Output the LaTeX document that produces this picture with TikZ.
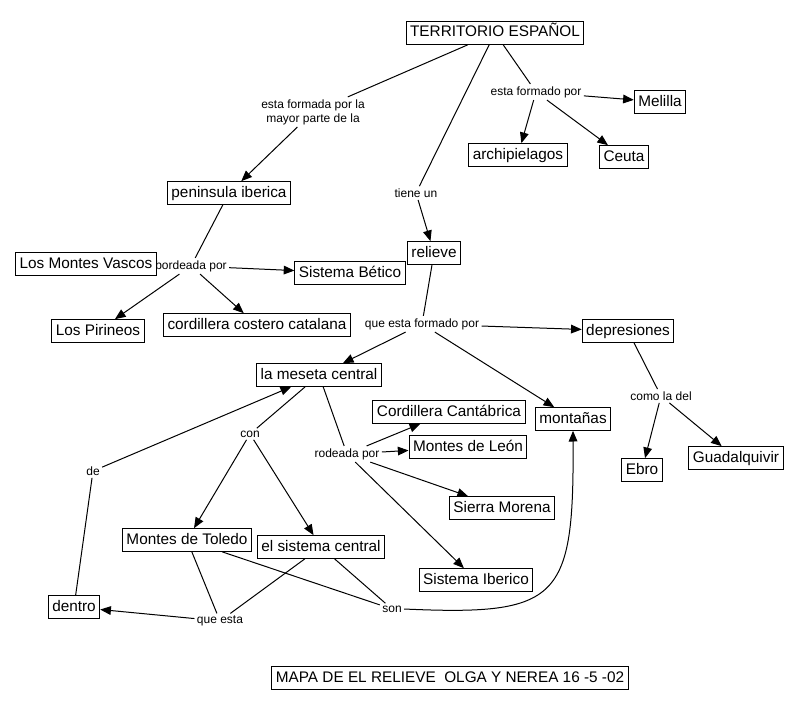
\documentclass[tikz,border=0pt]{standalone}
\usepackage{fontspec}
\setmainfont{Liberation Sans}
\usetikzlibrary{arrows.meta}

\begin{document}
\begin{tikzpicture}[x=0.75pt,y=-0.75pt,line width=0.75pt]

\tikzset{concept/.style={
  rectangle,
  inner xsep=3pt, inner ysep=3pt,
  text height=8.5pt, text depth=2.5pt,
  draw=black, fill=white,
  font=\fontsize{11.5}{13}\selectfont
  },
  linkword/.style={inner sep=1.5pt, align=center,
  font=\fontsize{9}{10.5}\selectfont},
  >={Triangle[length=8pt,width=6.5pt]}
  }

\useasboundingbox (0,0) rectangle (798,710);

\node[concept] (territorio) at (495,33) {TERRITORIO ESPAÑOL};
\node[linkword] (formada) at (313,112) {esta formada por la\\mayor parte de la};
\node[linkword] (formado) at (536,92) {esta formado por};
\node[linkword] (tiene) at (416,193) {tiene un};
\node[concept] (melilla) at (660,102) {Melilla};
\node[concept] (archi) at (518,155) {archipielagos};
\node[concept] (ceuta) at (624,157) {Ceuta};
\node[concept] (peninsula) at (229,193) {peninsula iberica};
\node[concept] (relieve) at (434,253) {relieve};

\node[linkword] (bordeada) at (191,266) {bordeada por};
\node[concept] (vascos) at (86,264) {Los Montes Vascos};
\node[concept] (betico) at (350,273) {Sistema Bético};
\node[concept] (pirineos) at (98,331) {Los Pirineos};
\node[concept] (catalana) at (257,325) {cordillera costero catalana};

\node[linkword] (compuesto) at (422,324) {que esta formado por};
\node[concept] (depresiones) at (628,331) {depresiones};
\node[concept] (meseta) at (319,375) {la meseta central};
\node[concept] (montanas) at (573,419) {montañas};
\node[linkword] (comola) at (661,396) {como la del};
\node[concept] (ebro) at (642,470) {Ebro};
\node[concept] (guadalquivir) at (736,458) {Guadalquivir};

%% alrededor de la meseta
\node[linkword] (con) at (250,434) {con};
\node[linkword] (rodeada) at (347,454) {rodeada por};
\node[linkword] (de) at (93,471) {de};
\node[concept] (cantabrica) at (449,412) {Cordillera Cantábrica};
\node[concept] (leon) at (468,447) {Montes de León};
\node[concept] (morena) at (502,508) {Sierra Morena};
\node[concept] (iberico) at (476,580) {Sistema Iberico};
\node[concept] (toledo) at (187,540) {Montes de Toledo};
\node[concept] (central) at (321,547) {el sistema central};
\node[concept] (dentro) at (74,607) {dentro};
\node[linkword] (queesta) at (220,621) {que esta};
\node[linkword] (son) at (392,609) {son};

\node[concept] (titulo) at (450,678) {MAPA DE EL RELIEVE\ \ OLGA Y NEREA 16 -5 -02};

\path[draw] (territorio) -- (formada);
\path[draw,->] (formada) -- (peninsula);
\path[draw] (territorio) -- (tiene);
\path[draw,->] (tiene) -- (relieve);
\path[draw] (territorio) -- (formado);
\path[draw,->] (formado) -- (melilla);
\path[draw,->] (formado) -- (archi);
\path[draw,->] (formado) -- (ceuta);

\path[draw] (peninsula) -- (bordeada);
\path[draw,->] (bordeada) -- (betico);
\path[draw,->] (bordeada) -- (pirineos);
\path[draw,->] (bordeada) -- (catalana);

\path[draw] (relieve) -- (compuesto);
\path[draw,->] (compuesto) -- (depresiones);
\path[draw,->] (compuesto) -- (meseta);
\path[draw,->] (compuesto) -- (montanas);
\path[draw] (depresiones) -- (comola);
\path[draw,->] (comola) -- (ebro);
\path[draw,->] (comola) -- (guadalquivir);

\path[draw] (meseta) -- (con);
\path[draw,->] (con) -- (toledo);
\path[draw,->] (con) -- (central);
\path[draw] (meseta) -- (rodeada);
\path[draw,->] (rodeada) -- (cantabrica);
\path[draw,->] (rodeada) -- (leon);
\path[draw,->] (rodeada) -- (morena);
\path[draw,->] (rodeada) -- (iberico);

\path[draw] (toledo) -- (queesta);
\path[draw] (central) -- (queesta);
\path[draw,->] (queesta) -- (dentro);
\path[draw] (dentro) -- (de);
\path[draw,->] (de) -- (meseta);
\path[draw] (toledo) -- (son);
\path[draw] (central) -- (son);
\path[draw,->] (son.east) .. controls (560,616) and (574,600) .. (montanas.south);
\end{tikzpicture}
\end{document}
